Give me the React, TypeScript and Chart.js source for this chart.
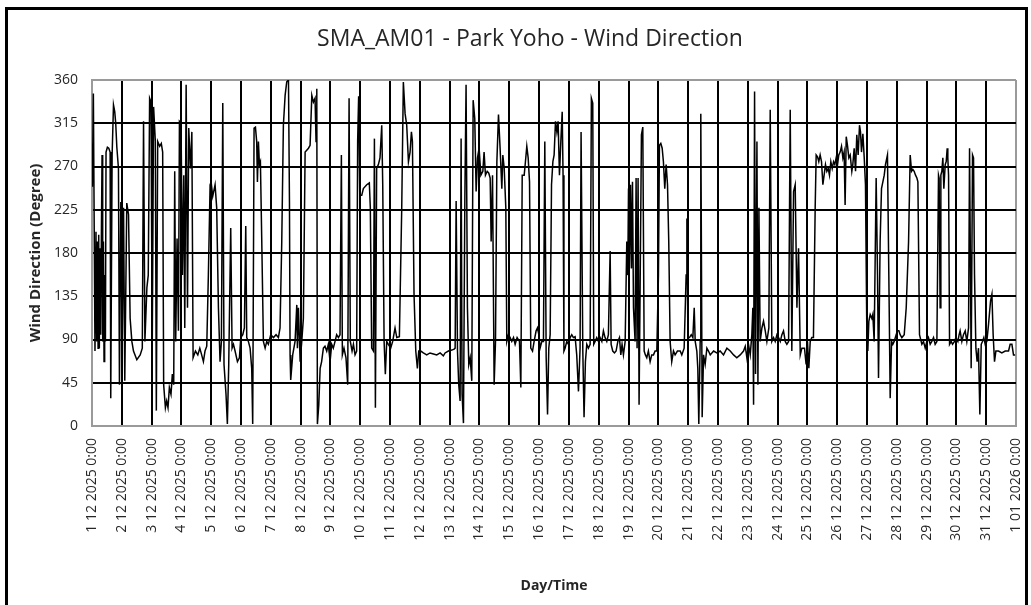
import React, { useEffect, useRef } from 'react';
import { Chart, registerables } from 'chart.js';

Chart.register(...registerables);

const TITLE = 'SMA_AM01 - Park Yoho - Wind Direction';
const Y_TITLE = 'Wind Direction (Degree)';
const X_TITLE = 'Day/Time';

const dayLabels = [
  '1 12 2025 0:00', '2 12 2025 0:00', '3 12 2025 0:00', '4 12 2025 0:00', '5 12 2025 0:00',
  '6 12 2025 0:00', '7 12 2025 0:00', '8 12 2025 0:00', '9 12 2025 0:00', '10 12 2025 0:00',
  '11 12 2025 0:00', '12 12 2025 0:00', '13 12 2025 0:00', '14 12 2025 0:00', '15 12 2025 0:00',
  '16 12 2025 0:00', '17 12 2025 0:00', '18 12 2025 0:00', '19 12 2025 0:00', '20 12 2025 0:00',
  '21 12 2025 0:00', '22 12 2025 0:00', '23 12 2025 0:00', '24 12 2025 0:00', '25 12 2025 0:00',
  '26 12 2025 0:00', '27 12 2025 0:00', '28 12 2025 0:00', '29 12 2025 0:00', '30 12 2025 0:00',
  '31 12 2025 0:00', '1 01 2026 0:00',
];

const yMin = 0;
const yMax = 360;
const yStep = 45;
const xStepHours = 24;

// hours since 1 12 2025 0:00
const hours = [
  0, 0.3, 1.1, 2.4, 3.2, 3.8, 4.3, 4.9, 5.4, 5.9, 6.5, 7.0, 7.6, 8.1, 8.6, 9.2, 9.7, 10.2, 10.8, 11.3,
  12.4, 13.5, 14.6, 15.1, 16.2, 17.3, 18.3, 19.1, 20.0, 21.3, 22.1, 23.2, 24.3, 25.4, 26.4, 28.0, 29.4, 30.7,
  32.1, 33.4, 36.1, 38.8, 40.5, 41.5, 42.6, 44.2, 45.3, 46.4, 47.5, 48.5, 49.6, 51.0, 51.8, 52.9, 54.5, 55.8,
  56.9, 57.7, 59.1, 60.1, 61.2, 62.3, 63.6, 64.7, 65.8, 66.6, 67.4, 68.5, 69.6, 70.4, 71.7, 72.8, 73.9, 74.7,
  75.8, 76.9, 77.9, 79.3, 80.4, 81.4, 83.3, 85.2, 86.8,
  88.3, 89.7, 91.0, 92.4, 93.7, 95.1, 95.9, 97.2, 99.1, 100.4, 101.8, 103.1, 104.2, 105.3, 106.3, 107.9, 109.0,
  110.1, 111.7, 112.8, 113.9, 115.2, 117.1, 118.7, 119.8, 121.4, 122.7, 123.8, 124.6, 125.9, 127.3, 128.6, 129.4,
  130.5, 131.6, 132.6, 133.2, 134.0, 134.8, 135.6, 136.7, 138.0, 139.4, 140.7, 142.0, 143.9, 146.1, 148.2, 150.1,
  151.4, 152.8, 154.1, 155.5, 156.8, 158.2, 159.0, 159.5, 160.0, 161.6, 163.5, 164.9, 165.4, 166.2, 167.6, 168.9,
  170.2, 171.6, 172.9, 174.3, 175.6, 177.0, 178.3, 179.6, 180.4, 181.0, 181.5, 182.6, 183.7,
  184.9, 186.3, 187.6, 189.0, 190.3, 191.7, 193.0, 194.3, 195.7, 197.0, 198.4, 199.7, 200.8, 201.6, 202.9, 204.5,
  205.9, 207.0, 208.0, 209.4, 210.5, 211.8, 213.1, 213.9, 214.7, 215.6, 217.2, 218.5, 221.2, 223.3, 224.1, 225.2,
  226.6, 227.4, 228.2, 229.2, 230.6, 231.9, 233.3, 234.1, 235.2, 236.2, 237.3, 238.6, 240.5, 242.1, 244.0, 245.4,
  247.5, 249.4, 250.7, 252.1, 253.4, 254.8, 256.1, 257.2, 258.0, 259.3, 260.7, 262.0, 263.1, 264.7, 266.8, 269.5,
  272.2, 274.9, 277.6, 280.3, 282.9,
  284.3, 287.0, 289.7, 291.6, 292.4, 293.2, 294.3, 295.3, 296.4, 297.2, 298.0, 299.1, 300.2, 301.2, 302.3, 303.4,
  304.5, 305.8, 306.9, 308.2, 309.3, 310.4, 311.7, 313.1, 314.7, 315.7, 316.8, 318.2, 319.5, 320.6, 321.4, 322.5,
  323.8, 324.9, 326.0, 327.3, 328.6, 330.0, 330.8, 331.9, 333.2, 334.0, 335.3, 336.7, 338.0, 339.4, 340.7, 342.3,
  344.2, 345.3, 346.4, 348.0, 349.0, 350.1, 351.2, 352.3, 353.3, 354.7, 356.0, 357.6, 358.7, 359.8, 360.8, 362.2,
  363.5, 364.6, 365.7, 366.8, 367.8, 368.9, 370.0, 371.1, 372.1, 373.2, 374.3, 375.3, 376.4, 377.5, 378.6, 379.3,
  380.0,
  380.9, 382.3, 383.6, 385.0, 386.3, 387.6, 389.0, 390.3, 391.7, 393.0, 393.8, 395.2, 396.2, 397.3, 398.4, 399.7,
  401.1, 402.1, 403.2, 404.0, 405.1, 406.4, 407.8, 409.1, 410.5, 411.8, 413.1, 414.5, 415.8, 417.2, 418.0, 419.3,
  420.7, 422.0, 423.4, 424.7, 425.8, 426.8, 427.9, 429.3, 430.6, 431.4, 432.0, 432.7, 433.6, 434.4, 435.2, 436.0,
  437.3, 438.1, 438.9, 439.7, 440.5, 441.3, 442.4, 443.5, 444.6, 445.6, 446.7, 448.0, 449.4, 450.7, 452.1, 453.4,
  454.8, 456.1, 456.9, 458.0, 459.1, 460.1, 461.2, 462.3, 463.4, 464.4, 465.5, 466.8, 468.2, 469.5, 471.4, 473.6,
  474.9, 476.8, 478.4, 479.0, 479.8, 481.1, 482.5, 483.8, 484.9, 485.7, 487.0, 487.8, 488.6, 489.7, 490.2, 491.3,
  492.4, 493.7, 495.1, 496.4, 497.8, 500.5, 503.1, 505.8, 508.5, 511.2, 513.9, 516.6, 519.2, 521.9, 524.6, 526.0,
  527.3, 528.6, 530.0, 531.3, 532.1, 532.7, 533.5, 534.3, 535.4, 536.2, 537.0, 538.0, 539.4, 540.7, 542.1, 543.4,
  545.0, 546.1, 547.4, 548.8, 550.1, 551.5, 552.8, 554.2, 555.5, 556.8, 558.2, 559.5, 560.9, 562.2, 563.5, 564.9,
  566.2, 567.6, 568.9, 570.3, 571.6,
  573.7, 575.0, 576.1, 577.2, 578.3, 579.6, 580.9, 582.3, 583.1, 584.2, 585.2, 586.3, 587.4, 588.5, 589.5, 590.6,
  591.7, 592.8, 593.8, 594.9, 596.0, 597.1, 598.1, 599.2, 600.3, 601.3, 602.4, 603.5, 604.6, 605.6, 606.4, 607.3,
  608.3, 609.4, 610.5, 611.8, 612.6, 613.7, 614.8, 615.8, 616.9, 618.0, 618.8, 619.6, 620.7, 621.8, 622.8, 623.9,
  624.7, 625.5, 626.6, 627.9, 628.7, 629.8, 631.4, 632.5, 633.3, 634.6, 635.7, 636.8, 637.9, 638.9, 640.5, 641.6,
  642.7, 643.8, 644.8, 645.9, 647.5, 648.6, 649.7, 650.7, 652.1, 654.0, 655.6, 657.5, 658.8, 659.9, 660.9, 662.0,
  663.1, 664.2, 665.0, 666.3,
  668.2, 669.5, 670.9, 672.2, 673.5, 674.9, 676.2, 677.6, 678.9, 680.3, 681.6, 682.1, 682.9, 683.5, 684.3, 685.1,
  685.9, 687.0, 687.8, 688.6, 689.1, 689.7, 690.5, 691.8, 692.9, 694.5, 695.6, 697.2, 698.2, 699.0, 700.4, 701.7,
  703.1, 704.4, 705.8, 706.6, 707.9, 709.0, 709.8, 710.6, 711.7, 712.7, 713.8, 714.9, 716.0, 717.0, 718.1, 719.2,
  720.5, 721.9, 723.5, 724.6, 725.6, 726.7, 727.8, 729.9, 732.6, 735.3, 738.0, 739.3, 740.7, 742.0, 743.3,
];

const directions = [
  294, 249, 346, 78, 202, 88, 192, 81, 199, 81, 185, 95, 206, 282, 88, 192, 67, 157, 88, 285,
  290, 289, 285, 29, 282, 334, 327, 315, 290, 268, 43, 233, 81, 227, 47, 232, 220, 112,
  88, 78, 69, 74, 81, 317, 88, 144, 157, 341, 337, 78, 332, 296, 16, 296, 291, 294,
  285, 43, 19, 26, 19, 40, 33, 54, 43, 265, 88, 195, 99, 317, 315, 157, 261, 102,
  355, 123, 310, 268, 306, 71, 78, 74, 81,
  74, 67, 78, 83, 157, 251, 254, 239, 251, 227, 123, 67, 88, 336, 64, 33, 2,
  64, 206, 81, 85, 78, 67, 71, 92, 95, 102, 208, 92, 88, 81, 60, 2,
  310, 311, 296, 254, 296, 272, 275, 192, 88, 81, 88, 85, 95, 92, 95, 92,
  102, 192, 313, 344, 358, 360, 233, 74, 48, 74, 88, 126, 81, 123, 67, 88,
  112, 285, 287, 289, 292, 344, 337, 341, 296, 351, 2, 22, 60,
  67, 81, 83, 78, 85, 67, 85, 81, 88, 95, 92, 95, 282, 74, 81, 71,
  43, 341, 88, 78, 85, 74, 78, 296, 343, 240, 240, 247, 251, 253, 227, 81,
  78, 299, 19, 268, 272, 279, 313, 251, 88, 54, 88, 85, 81, 88, 102, 92,
  93, 227, 358, 325, 313, 275, 285, 306, 296, 137, 78, 60, 78, 78, 76, 74,
  76, 75, 74, 76, 73,
  76, 78, 79, 80, 81, 234, 78, 43, 26, 299, 33, 3, 234, 355, 123, 64,
  71, 47, 339, 320, 244, 279, 289, 261, 265, 285, 261, 265, 263, 258, 192, 261,
  43, 88, 275, 324, 289, 247, 282, 268, 227, 88, 95, 92, 88, 92, 85, 92,
  88, 40, 261, 261, 275, 291, 279, 254, 81, 78, 88, 99, 102, 95, 81, 88,
  88, 296, 71, 12, 81, 95, 251, 275, 282, 317, 306, 317, 261, 296, 327, 261,
  78,
  81, 88, 85, 92, 95, 92, 93, 74, 36, 81, 306, 78, 9, 67, 85, 81,
  85, 341, 336, 85, 88, 92, 88, 92, 88, 99, 92, 88, 95, 182, 85, 78,
  76, 78, 88, 92, 74, 85, 74, 88, 192, 157, 247, 164, 251, 164, 254, 123,
  88, 258, 81, 258, 22, 137, 303, 311, 78, 74, 71, 78, 67, 74, 74, 78,
  78, 157, 292, 294, 289, 275, 247, 272, 251, 192, 88, 67, 78, 74, 78, 78,
  74, 81, 157, 216, 92, 92, 95, 92, 123, 88, 78, 60, 2, 88, 325, 9,
  74, 64, 81, 78, 74, 78, 76, 78, 74, 81, 78, 74, 71, 74, 78, 83,
  71, 85, 74, 95, 123, 22, 348, 54, 296, 43, 227, 88, 102, 109, 99, 88,
  102, 329, 88, 92, 88, 95, 92, 88, 95, 99, 88, 85, 88, 329, 78, 244,
  251, 123, 185, 74, 81,
  81, 64, 88, 60, 88, 92, 92, 227, 282, 280, 275, 282, 275, 251, 261, 272,
  265, 268, 261, 275, 268, 275, 272, 279, 272, 282, 285, 291, 279, 285, 230, 301,
  292, 279, 282, 265, 272, 289, 265, 303, 282, 313, 306, 285, 304, 279, 251, 95,
  78, 109, 116, 112, 116, 88, 258, 157, 50, 192, 247, 254, 261, 272, 282, 157,
  29, 88, 85, 88, 95, 99, 99, 95, 92, 95, 123, 192, 282, 265, 267, 265,
  261, 258, 254, 95,
  85, 88, 81, 88, 92, 85, 88, 92, 85, 88, 261, 258, 123, 261, 265, 279,
  247, 272, 275, 289, 279, 261, 85, 88, 85, 88, 92, 88, 95, 99, 88, 95,
  99, 88, 102, 289, 60, 282, 279, 157, 81, 67, 81, 12, 85, 88, 92, 85,
  88, 106, 130, 137, 95, 67, 78, 78, 76, 78, 78, 85, 85, 74, 74,
];

const FONT = "'Open Sans', 'DejaVu Sans', sans-serif";
const TEXT = '#262626';
const EDGE = '#9a9a9a';

const frame = {
  id: 'frame',
  beforeDraw(chart: any) {
    const c = chart.ctx;
    c.save();
    c.fillStyle = '#ffffff';
    c.fillRect(0, 0, chart.width, chart.height);
    c.restore();
  },
  afterDraw(chart: any) {
    const c = chart.ctx;
    c.save();
    // chart title
    c.fillStyle = TEXT;
    c.font = `normal 23px ${FONT}`;
    c.textAlign = 'center';
    c.textBaseline = 'middle';
    c.fillText(TITLE, 530, 39);
    // outer frame
    c.strokeStyle = '#000000';
    c.lineWidth = 3;
    c.strokeRect(6.5, 8.5, 1020, 620);
    c.restore();
  },
};

export default function App() {
  const ref = useRef<HTMLCanvasElement | null>(null);

  useEffect(() => {
    if (!ref.current) return;
    const points = hours.map((h, i) => ({ x: h, y: directions[i] }));
    const chart = new Chart(ref.current, {
      type: 'line',
      data: {
        datasets: [
          {
            label: 'Wind Direction',
            data: points,
            borderColor: '#000000',
            borderWidth: 1.5,
            pointRadius: 0,
            tension: 0,
            fill: false,
          },
        ],
      },
      options: {
        animation: false,
        responsive: false,
        devicePixelRatio: 1,
        layout: { padding: { left: 0, right: 15, top: 80, bottom: 0 } },
        plugins: {
          legend: { display: false },
          tooltip: { enabled: false },
          title: { display: false },
        },
        scales: {
          x: {
            type: 'linear',
            min: 0,
            max: (dayLabels.length - 1) * xStepHours,
            afterFit(scale: any) {
              scale.height = 179;
              scale.paddingRight = 0;
              scale.paddingLeft = 0;
            },
            ticks: {
              stepSize: xStepHours,
              autoSkip: false,
              maxRotation: 90,
              minRotation: 90,
              padding: 12,
              color: TEXT,
              font: { family: FONT, size: 14 },
              callback: (v: any) => dayLabels[Math.round(Number(v) / xStepHours)] ?? '',
            },
            grid: {
              drawTicks: false,
              lineWidth: 2,
              color: (ctx: any) =>
                ctx.tick && (ctx.tick.value === 0 || ctx.tick.value === (dayLabels.length - 1) * xStepHours)
                  ? EDGE
                  : '#000000',
            },
            border: { display: true, color: EDGE, width: 2 },
            title: {
              display: true,
              text: X_TITLE,
              color: TEXT,
              font: { family: FONT, size: 14, weight: 'bold' },
              padding: { top: 0, bottom: 11 },
            },
          },
          y: {
            type: 'linear',
            min: yMin,
            max: yMax,
            afterFit(scale: any) {
              scale.width = 92;
            },
            ticks: {
              stepSize: yStep,
              padding: 14,
              color: TEXT,
              font: { family: FONT, size: 14 },
            },
            grid: {
              drawTicks: false,
              lineWidth: 2,
              color: (ctx: any) =>
                ctx.tick && (ctx.tick.value === yMin || ctx.tick.value === yMax) ? EDGE : '#000000',
            },
            border: { display: true, color: EDGE, width: 2 },
            title: {
              display: true,
              text: Y_TITLE,
              color: TEXT,
              font: { family: FONT, size: 15, weight: 'bold' },
              padding: { top: 27, bottom: 0 },
            },
          },
        },
      },
      plugins: [frame],
    });
    return () => chart.destroy();
  }, []);

  return (
    <div style={{ position: 'absolute', left: 0, top: 0, width: 1031, height: 605 }}>
      <canvas ref={ref} width={1031} height={605} style={{ display: 'block', width: 1031, height: 605 }} />
    </div>
  );
}
